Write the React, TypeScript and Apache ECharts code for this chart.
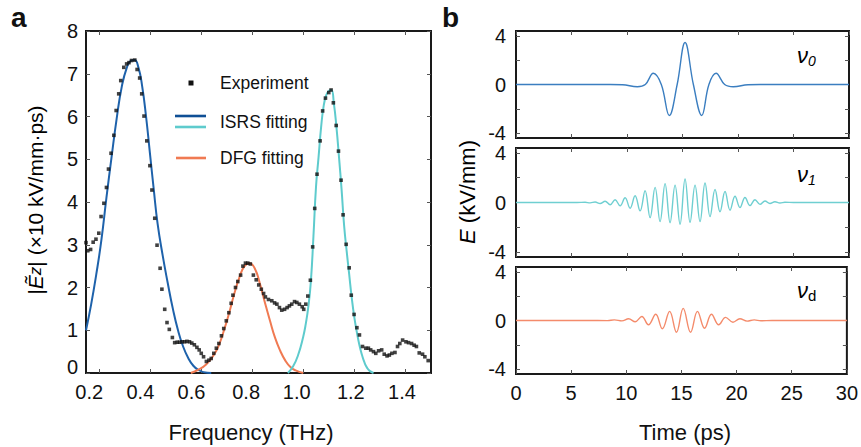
import React, { useEffect, useRef } from "react";
import * as echarts from "echarts";

// ---------- data ----------
const freqTicks = [0.2, 0.4, 0.6, 0.8, 1.0, 1.2, 1.4];
const ampTicks = [0, 1, 2, 3, 4, 5, 6, 7, 8];
const timeTicks = [0, 5, 10, 15, 20, 25, 30];
const fieldLabels = [-4, 0, 4];
const fieldTicks = [-4, -2, 0, 2, 4];

const experiment: [number, number][] = [
  [0.15, 3.05], [0.157, 2.86], [0.168, 2.89], [0.178, 3.06], [0.189, 3.13], [0.2, 3.27],
  [0.209, 3.66], [0.22, 3.97], [0.23, 4.34], [0.238, 4.77], [0.248, 5.14], [0.259, 5.56],
  [0.268, 6.14], [0.278, 6.53], [0.286, 6.84], [0.298, 7.15], [0.309, 7.23], [0.318, 7.26],
  [0.328, 7.31], [0.341, 7.32], [0.35, 7.1], [0.36, 6.9], [0.368, 6.53], [0.377, 6.01],
  [0.388, 5.43], [0.4, 4.85], [0.408, 4.28], [0.419, 3.62], [0.428, 2.99], [0.44, 2.45],
  [0.447, 1.96], [0.458, 1.49], [0.467, 1.18], [0.476, 1.02], [0.488, 0.83], [0.497, 0.71],
  [0.507, 0.72], [0.516, 0.72], [0.526, 0.73], [0.536, 0.73], [0.545, 0.74], [0.555, 0.73],
  [0.564, 0.7], [0.574, 0.66], [0.584, 0.6], [0.593, 0.54], [0.601, 0.46], [0.61, 0.38],
  [0.621, 0.27], [0.631, 0.3], [0.64, 0.34], [0.65, 0.46], [0.66, 0.58], [0.67, 0.69],
  [0.68, 0.87], [0.689, 1.04], [0.699, 1.22], [0.709, 1.41], [0.718, 1.63], [0.725, 1.82],
  [0.735, 2.0], [0.744, 2.14], [0.755, 2.29], [0.764, 2.5], [0.774, 2.57], [0.783, 2.57],
  [0.793, 2.55], [0.805, 2.29], [0.816, 2.18], [0.826, 2.06], [0.836, 1.96], [0.845, 1.86],
  [0.852, 1.78], [0.864, 1.72], [0.877, 1.69], [0.888, 1.64], [0.897, 1.61], [0.907, 1.53],
  [0.916, 1.47], [0.927, 1.49], [0.937, 1.53], [0.946, 1.57], [0.955, 1.61], [0.966, 1.67],
  [0.975, 1.65], [0.985, 1.61], [0.996, 1.55], [1.002, 1.49], [1.01, 1.61], [1.018, 1.8],
  [1.028, 2.17], [1.037, 2.95], [1.045, 3.85], [1.054, 4.65], [1.066, 5.43], [1.076, 6.13],
  [1.087, 6.43], [1.1, 6.56], [1.109, 6.62], [1.118, 6.32], [1.129, 5.79], [1.138, 5.19],
  [1.148, 4.51], [1.156, 3.7], [1.168, 3.01], [1.18, 2.46], [1.188, 1.82], [1.199, 1.37],
  [1.21, 1.06], [1.22, 0.89], [1.232, 0.62], [1.245, 0.58], [1.255, 0.58], [1.264, 0.54],
  [1.275, 0.5], [1.284, 0.46], [1.295, 0.52], [1.307, 0.54], [1.317, 0.44], [1.328, 0.4],
  [1.337, 0.42], [1.347, 0.46], [1.359, 0.48], [1.369, 0.62], [1.378, 0.69], [1.389, 0.77],
  [1.402, 0.73], [1.412, 0.71], [1.424, 0.69], [1.434, 0.65], [1.443, 0.62], [1.454, 0.47],
  [1.467, 0.44], [1.476, 0.38], [1.489, 0.29],
];

const isrsFitLow: [number, number][] = [
  [0.15, 1.0], [0.17, 1.6], [0.19, 2.3], [0.21, 3.1], [0.23, 4.1], [0.25, 5.05], [0.27, 5.95],
  [0.29, 6.7], [0.31, 7.15], [0.325, 7.3], [0.34, 7.32], [0.355, 7.15], [0.37, 6.7],
  [0.385, 6.0], [0.4, 5.15], [0.415, 4.3], [0.43, 3.5], [0.45, 2.75], [0.47, 2.1], [0.49, 1.5],
  [0.51, 1.0], [0.53, 0.62], [0.55, 0.35], [0.57, 0.17], [0.59, 0.07], [0.61, 0.02], [0.64, 0],
];

const isrsFitHigh: [number, number][] = [
  [0.94, 0], [0.96, 0.15], [0.98, 0.42], [1.0, 0.85], [1.01, 1.15], [1.02, 1.55], [1.03, 2.15],
  [1.04, 3.2], [1.05, 4.35], [1.06, 5.05], [1.07, 5.75], [1.08, 6.25], [1.09, 6.5], [1.1, 6.6],
  [1.11, 6.62], [1.12, 6.3], [1.13, 5.75], [1.14, 5.05], [1.15, 4.3], [1.16, 3.45], [1.17, 2.85],
  [1.18, 2.3], [1.19, 1.75], [1.2, 1.3], [1.21, 0.95], [1.22, 0.65], [1.23, 0.42], [1.24, 0.24],
  [1.25, 0.12], [1.26, 0.05], [1.275, 0],
];

const dfgFit: [number, number][] = [
  [0.56, 0], [0.59, 0.08], [0.62, 0.2], [0.65, 0.42], [0.67, 0.65], [0.69, 1.0], [0.71, 1.4],
  [0.73, 1.85], [0.75, 2.23], [0.77, 2.5], [0.79, 2.57], [0.81, 2.45], [0.83, 2.1], [0.85, 1.65],
  [0.87, 1.22], [0.89, 0.82], [0.91, 0.52], [0.93, 0.29], [0.95, 0.14], [0.97, 0.06], [1.0, 0],
];

const nu0Wave: [number, number][] = [
  [0, 0], [5, 0], [8.5, 0], [9.6, -0.02], [10.93, -0.19], [11.65, 0], [12.37, 0.92], [13.09, 0],
  [13.81, -2.55], [14.52, 0], [15.23, 3.45], [15.98, 0], [16.73, -2.55], [17.38, 0], [18.02, 0.92],
  [18.8, 0], [19.58, -0.19], [20.9, -0.02], [22, 0], [25, 0], [30, 0],
];

const nu1Wave: [number, number][] = [
  [0, 0], [3, 0], [5.5, 0], [6.23, 0.02], [6.68, -0.03], [7.13, 0.04], [7.58, -0.08], [8.03, 0.1],
  [8.48, -0.18], [8.93, 0.22], [9.38, -0.27], [9.83, 0.38], [10.28, -0.46], [10.73, 0.54],
  [11.18, -0.68], [11.63, 0.95], [12.08, -1.22], [12.53, 1.22], [12.98, -1.54], [13.43, 1.52],
  [13.88, -1.63], [14.33, 1.4], [14.78, -1.75], [15.23, 1.9], [15.68, -1.6], [16.13, 1.4],
  [16.58, -1.54], [17.03, 1.57], [17.48, -1.14], [17.93, 1.05], [18.38, -0.75], [18.83, 0.89],
  [19.28, -0.62], [19.73, 0.5], [20.18, -0.41], [20.63, 0.4], [21.08, -0.25], [21.53, 0.22],
  [21.98, -0.15], [22.43, 0.12], [22.88, -0.08], [23.33, 0.06], [23.78, -0.04], [24.23, 0.02],
  [25, 0], [27, 0], [30, 0],
];

const nudWave: [number, number][] = [
  [0, 0], [3, 0], [6.5, 0], [8.3, -0.01], [8.92, 0.05], [9.6, -0.03], [10.21, 0.14],
  [10.81, -0.1], [11.41, 0.33], [12.01, -0.35], [12.67, 0.51], [13.27, -0.68], [13.93, 0.75],
  [14.55, -0.97], [15.16, 1.0], [15.83, -0.97], [16.45, 0.75], [17.1, -0.64], [17.72, 0.51],
  [18.38, -0.35], [19.0, 0.26], [19.67, -0.14], [20.3, 0.14], [20.95, -0.05], [21.6, 0.05],
  [22.2, -0.02], [23.2, 0], [26, 0], [30, 0],
];

// ---------- styling ----------
const FONT = "'Liberation Sans', Arial, Helvetica, sans-serif";
const INK = "#111111";
const C_BLUE = "#1e62ab";
const C_BLUE_DARK = "#0f4f95";
const C_CYAN = "#5ecbcd";
const C_ORANGE = "#f07a52";
const C_BLUE_R = "#3b7ec0";
const C_CYAN_R = "#6fcfd1";
const C_ORANGE_R = "#f48b6b";

const frame = { show: true, borderColor: "#1a1a1a", borderWidth: 2, backgroundColor: "transparent" };
const tick = { show: true, inside: true, length: 4, lineStyle: { color: "#555", width: 1 } };
const noLine = { show: false, onZero: false };
const labelBase = { fontFamily: FONT, fontSize: 20, color: INK };

// per-label horizontal nudge of the left panel's frequency labels (as in the reference)
const freqLabelShift: Record<string, number> = {
  "0.2": 19, "0.4": 19, "0.6": 19, "0.8": 12, "1.0": 13, "1.2": 7, "1.4": 7,
};

export default function App() {
  const ref = useRef<HTMLDivElement>(null);

  useEffect(() => {
    if (!ref.current) return;
    const chart = echarts.init(ref.current, undefined, { renderer: "svg" });

    const freqRich: Record<string, any> = {};
    Object.keys(freqLabelShift).forEach((k, i) => {
      freqRich["f" + i] = { ...labelBase, padding: [0, freqLabelShift[k], 0, 0] };
    });

    const rightPanels = [
      { top: 31, height: 107, data: nu0Wave, color: C_BLUE_R },
      { top: 148, height: 109, data: nu1Wave, color: C_CYAN_R },
      { top: 267, height: 107, data: nudWave, color: C_ORANGE_R },
    ];

    const grids: any[] = [{ left: 86, top: 31, width: 345, height: 342, ...frame }];
    rightPanels.forEach((p) => grids.push({ left: 516, top: p.top, width: 333, height: p.height, ...frame }));

    const xAxes: any[] = [
      {
        type: "value", gridIndex: 0, min: 0.15, max: 1.5, position: "bottom",
        axisLine: noLine, splitLine: { show: false },
        axisTick: { ...tick, customValues: freqTicks },
        axisLabel: {
          ...labelBase, margin: 9, customValues: freqTicks,
          formatter: (v: number) => {
            const s = v.toFixed(1);
            const i = Object.keys(freqLabelShift).indexOf(s);
            return i >= 0 ? `{f${i}|${s}}` : s;
          },
          rich: freqRich,
        },
      },
      {
        type: "value", gridIndex: 0, min: 0.15, max: 1.5, position: "top",
        axisLine: noLine, splitLine: { show: false },
        axisTick: { ...tick, customValues: freqTicks }, axisLabel: { show: false },
      },
    ];
    const yAxes: any[] = [
      {
        type: "value", gridIndex: 0, min: 0, max: 8, interval: 1, position: "left",
        axisLine: noLine, splitLine: { show: false }, axisTick: { ...tick },
        axisLabel: {
          ...labelBase, margin: 8,
          formatter: (v: number) => (v === 0 ? `{z|0}` : String(v)),
          rich: { z: { ...labelBase, padding: [0, 0, 12, 0] } },
        },
      },
      {
        type: "value", gridIndex: 0, min: 0, max: 8, interval: 1, position: "right",
        axisLine: noLine, splitLine: { show: false }, axisTick: { ...tick },
        axisLabel: { show: false },
      },
    ];

    rightPanels.forEach((p, k) => {
      const g = k + 1;
      xAxes.push({
        type: "value", gridIndex: g, min: 0, max: 30, interval: 5, position: "bottom",
        axisLine: noLine, splitLine: { show: false }, axisTick: { ...tick },
        axisLabel: k === 2 ? { ...labelBase, margin: 9 } : { show: false },
      });
      xAxes.push({
        type: "value", gridIndex: g, min: 0, max: 30, interval: 5, position: "top",
        axisLine: noLine, splitLine: { show: false }, axisTick: { ...tick },
        axisLabel: { show: false },
      });
      yAxes.push({
        type: "value", gridIndex: g, min: -4.4, max: 4.4, position: "left",
        axisLine: noLine, splitLine: { show: false },
        axisTick: { ...tick, customValues: fieldTicks },
        axisLabel: { ...labelBase, margin: 10, customValues: fieldLabels },
      });
      yAxes.push({
        type: "value", gridIndex: g, min: -4.4, max: 4.4, position: "right",
        axisLine: noLine, splitLine: { show: false },
        axisTick: { ...tick, customValues: fieldTicks }, axisLabel: { show: false },
      });
    });

    const series: any[] = [
      {
        type: "line", xAxisIndex: 0, yAxisIndex: 0, data: isrsFitLow, smooth: 0.5, showSymbol: false,
        lineStyle: { color: C_BLUE, width: 2 }, z: 2,
      },
      {
        type: "line", xAxisIndex: 0, yAxisIndex: 0, data: dfgFit, smooth: 0.5, showSymbol: false,
        lineStyle: { color: C_ORANGE, width: 2 }, z: 2,
      },
      {
        type: "line", xAxisIndex: 0, yAxisIndex: 0, data: isrsFitHigh, smooth: 0.5, showSymbol: false,
        lineStyle: { color: C_CYAN, width: 2 }, z: 2,
      },
      {
        type: "scatter", xAxisIndex: 0, yAxisIndex: 0, data: experiment, symbol: "rect",
        symbolSize: 3.6, itemStyle: { color: INK }, z: 5,
      },
    ];
    rightPanels.forEach((p, k) => {
      series.push({
        type: "line", xAxisIndex: 2 + 2 * k, yAxisIndex: 2 + 2 * k, data: p.data, smooth: 0.4,
        showSymbol: false, lineStyle: { color: p.color, width: 1.4 },
      });
    });

    const nuRich = {
      v: { fontFamily: FONT, fontSize: 22, fontStyle: "italic", color: INK, lineHeight: 26 },
      s: { fontFamily: FONT, fontSize: 14, fontStyle: "italic", color: INK, lineHeight: 26, verticalAlign: "bottom", padding: [8, 0, 0, 0] },
      r: { fontFamily: FONT, fontSize: 15, color: INK, lineHeight: 26, verticalAlign: "bottom", padding: [8, 0, 0, 0] },
    };

    const graphic: any[] = [
      { type: "text", x: 11, y: 3, style: { text: "a", font: `bold 28px ${FONT}`, fill: INK } },
      { type: "text", x: 442, y: 3, style: { text: "b", font: `bold 28px ${FONT}`, fill: INK } },
      // legend
      { type: "rect", shape: { x: 188.5, y: 80.5, width: 5, height: 5 }, style: { fill: INK } },
      { type: "text", x: 220, y: 83, style: { text: "Experiment", font: `17.5px ${FONT}`, fill: INK, verticalAlign: "middle" } },
      { type: "line", shape: { x1: 175, y1: 116, x2: 206, y2: 116 }, style: { stroke: C_BLUE_DARK, lineWidth: 2.6 } },
      { type: "line", shape: { x1: 175, y1: 127, x2: 206, y2: 127 }, style: { stroke: C_CYAN, lineWidth: 2.6 } },
      { type: "text", x: 220, y: 122, style: { text: "ISRS fitting", font: `17.5px ${FONT}`, fill: INK, verticalAlign: "middle" } },
      { type: "line", shape: { x1: 176, y1: 158, x2: 206, y2: 158 }, style: { stroke: C_ORANGE, lineWidth: 2.6 } },
      { type: "text", x: 220, y: 158, style: { text: "DFG fitting", font: `17.5px ${FONT}`, fill: INK, verticalAlign: "middle" } },
      // axis titles
      { type: "text", x: 251, y: 432, style: { text: "Frequency (THz)", font: `22px ${FONT}`, fill: INK, align: "center", verticalAlign: "middle" } },
      { type: "text", x: 685, y: 432, style: { text: "Time (ps)", font: `22px ${FONT}`, fill: INK, align: "center", verticalAlign: "middle" } },
      {
        type: "text", x: 35, y: 200, rotation: Math.PI / 2,
        style: {
          text: "{a||}{e|Ẽ}{z|z}{a|| (×10 kV/mm·ps)}", align: "center", verticalAlign: "middle",
          rich: {
            a: { fontFamily: FONT, fontSize: 21, color: INK },
            e: { fontFamily: FONT, fontSize: 21, fontStyle: "italic", color: INK },
            z: { fontFamily: FONT, fontSize: 17, fontStyle: "italic", color: INK },
          },
        },
      },
      {
        type: "text", x: 467, y: 192, rotation: Math.PI / 2,
        style: {
          text: "{e|E}{a| (kV/mm)}", align: "center", verticalAlign: "middle",
          rich: {
            a: { fontFamily: FONT, fontSize: 22, color: INK },
            e: { fontFamily: FONT, fontSize: 22, fontStyle: "italic", color: INK },
          },
        },
      },
      // panel tags
      { type: "text", x: 797, y: 55, style: { text: "{v|ν}{s|0}", rich: nuRich, verticalAlign: "middle" } },
      { type: "text", x: 797, y: 174, style: { text: "{v|ν}{s|1}", rich: nuRich, verticalAlign: "middle" } },
      { type: "text", x: 797, y: 290, style: { text: "{v|ν}{r|d}", rich: nuRich, verticalAlign: "middle" } },
    ];

    chart.setOption({
      animation: false,
      backgroundColor: "#ffffff",
      grid: grids,
      xAxis: xAxes,
      yAxis: yAxes,
      series,
      graphic,
    });

    return () => chart.dispose();
  }, []);

  return (
    <div
      ref={ref}
      style={{ position: "absolute", left: 0, top: 0, width: 861, height: 447, background: "#fff" }}
    />
  );
}
